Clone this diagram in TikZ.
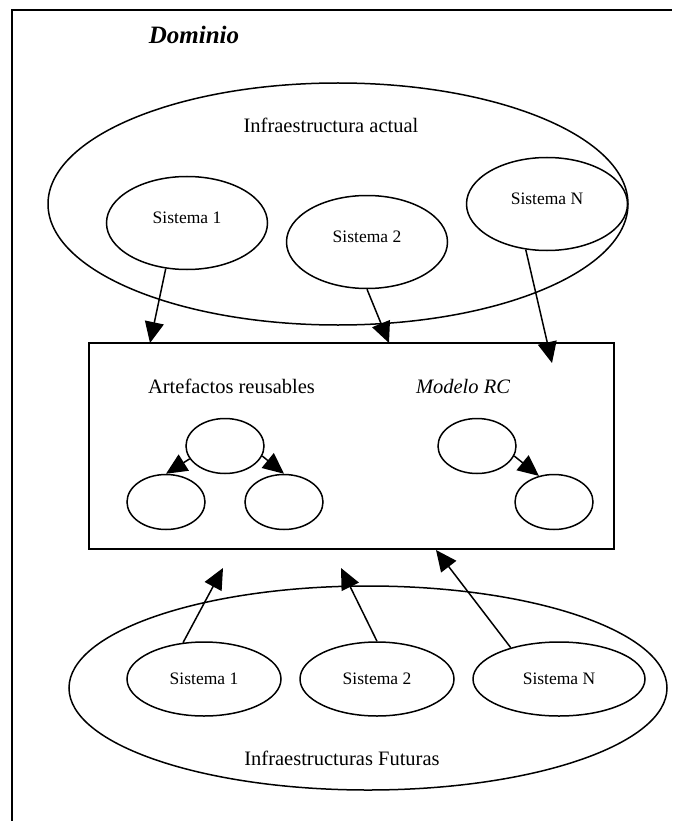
\documentclass[tikz,border=0pt]{standalone}
\usepackage{fontspec}
\setmainfont{Liberation Serif}
\usetikzlibrary{arrows.meta,positioning,shapes.geometric}
\tikzset{
    >={Triangle[length=21pt,width=19pt]},
    every picture/.style={line width=1.5pt},
    sistema/.style={ellipse,draw,inner sep=0pt,font=\fontsize{17.5}{20}\selectfont},
    sisalto/.style={sistema,minimum width=161pt,minimum height=93pt,text depth=11pt},
    sisbajo/.style={sistema,minimum width=154pt,minimum height=74pt},
    artefacto/.style={ellipse,draw,inner sep=0pt,minimum width=78pt,minimum height=55pt},
    titulo/.style={font=\fontsize{20.5}{24}\selectfont,inner sep=0pt}
}

\begin{document}
\begin{tikzpicture}[x=1pt,y=-1pt]
        \useasboundingbox (0,0) rectangle (672,821);

        % Dominio
        \draw[line width=2pt] (12,821) -- (12,10) -- (672,10);
        \node[inner sep=0pt,font=\fontsize{25}{30}\selectfont\bfseries\itshape] (dominio) at (194,35) {Dominio};

        % Infraestructura actual
        \node[ellipse,draw,minimum width=580pt,minimum height=242pt] (actual) at (338,204) {};
        \node[titulo] (actualtxt) at (331,125) {Infraestructura actual};
        \node[sisalto] (a1) at (187,223) {Sistema 1};
        \node[sisalto] (a2) at (367,242) {Sistema 2};
        \node[sisalto] (aN) at (547,204) {Sistema N};

        % Artefactos reusables y modelo
        \node[draw,rectangle,inner sep=0pt,line width=1.9pt,minimum width=525pt,minimum height=206pt] (reuso) at (351.5,446) {};
        \node[titulo] (artetxt) at (231.5,386) {Artefactos reusables};
        \node[titulo,font={\fontsize{20.5}{24}\selectfont\itshape}] (modelotxt) at (463,386) {Modelo RC};
        \node[artefacto] (raiz) at (225,446) {};
        \node[artefacto] (hijoizq) at (166,502) {};
        \node[artefacto] (hijoder) at (284,502) {};
        \node[artefacto] (mpadre) at (477,446) {};
        \node[artefacto] (mhijo) at (554,502) {};
        \draw[->] (raiz.200) -- (hijoizq.north);
        \draw[->] (raiz.-15) -- (hijoder.north);
        \draw[->] (mpadre.-15) -- (mhijo.120);

        % Infraestructuras futuras
        \node[ellipse,draw,minimum width=598pt,minimum height=204pt] (futuras) at (368,688) {};
        \node[titulo] (futurastxt) at (342,758) {Infraestructuras Futuras};
        \node[sisbajo] (f1) at (204,679) {Sistema 1};
        \node[sisbajo] (f2) at (377,679) {Sistema 2};
        \node[sisbajo,minimum width=172pt] (fN) at (559,679) {Sistema N};

        % entradas al repositorio
        \coordinate (e1) at (150,343);
        \coordinate (e2) at (389,343);
        \coordinate (eN) at (552,363);
        \coordinate (s1) at (223,568);
        \coordinate (s2) at (341,568);
        \coordinate (sN) at (436,550);
        \draw[->] (a1.245) -- (e1);
        \draw[->] (a2.south) -- (e2);
        \draw[->] (aN.245) -- (eN);
        \draw[->] (f1.120) -- (s1);
        \draw[->] (f2.north) -- (s2);
        \draw[->] (fN.147) -- (sN);
\end{tikzpicture}
\end{document}
